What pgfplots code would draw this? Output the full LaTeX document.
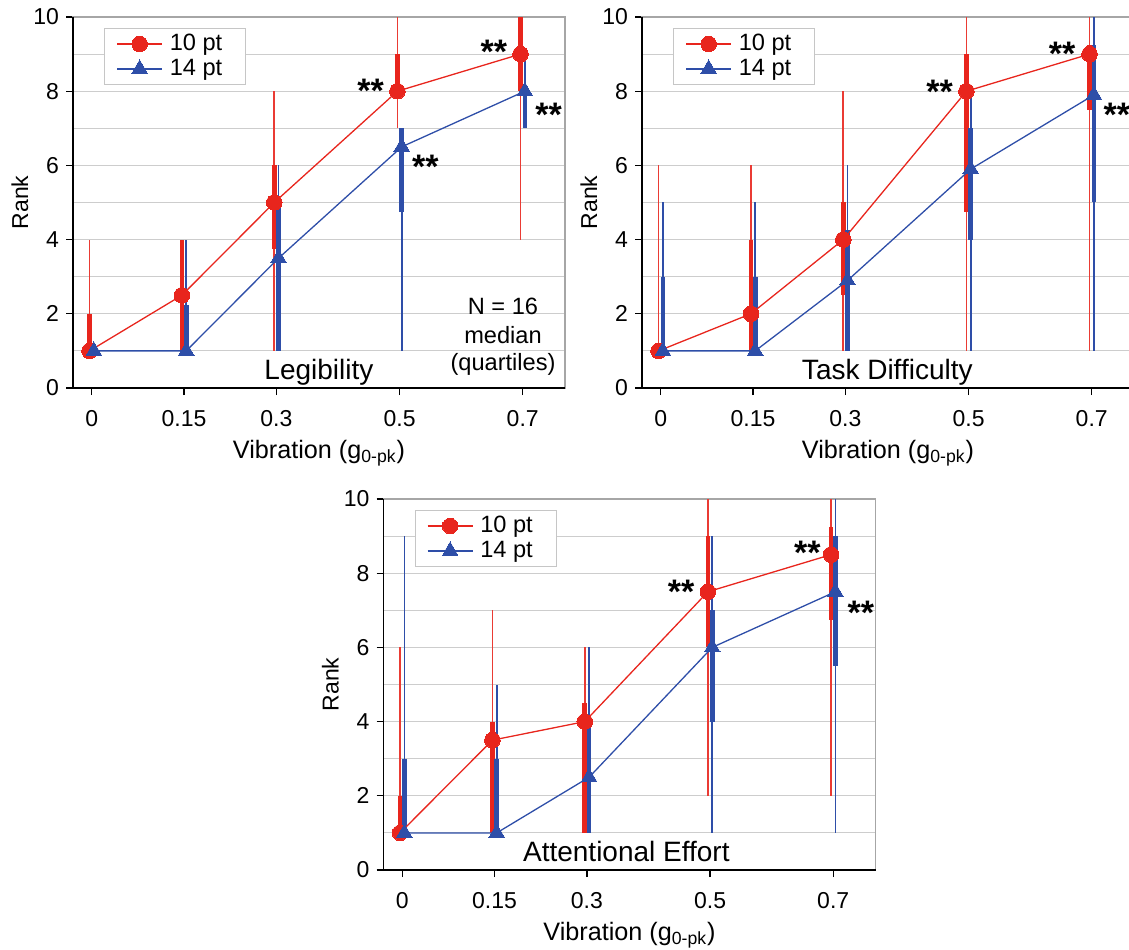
\documentclass[border=0pt]{standalone}
\usepackage{fontspec}
\setmainfont{Liberation Sans}
\usepackage{pgfplots}
\usepackage{pgfplotstable}
\pgfplotsset{compat=1.18}
\definecolor{cred}{RGB}{232,37,29}
\definecolor{cblue}{RGB}{46,78,168}
\definecolor{gridc}{RGB}{205,205,205}

% columns: x, min, lower quartile, median, upper quartile, max
\pgfplotstableread{
x mn qa md qb mx
0    1 1    1   2    4
0.15 1 1    2.5 4    4
0.3  1 3.75 5   6    8
0.5  7 8    8   9    10
0.7  4 8    9   10   10
}\legR
\pgfplotstableread{
x mn qa md qb mx
0    1 1    1   1    1
0.15 1 1    1   2.25 4
0.3  1 1    3.5 4.9  6
0.5  1 4.75 6.5 7    7
0.7  7 7    8   8    9
}\legB
\pgfplotstableread{
x mn qa md qb mx
0    1 1    1   1    6
0.15 1 1    2   4    6
0.3  1 2.5  4   5    8
0.5  1 4.75 8   9    10
0.7  1 7.5  9   9.25 10
}\tasR
\pgfplotstableread{
x mn qa md qb mx
0    1 1    1   3    5
0.15 1 1    1   3    5
0.3  1 1    2.9 4.25 6
0.5  1 4    5.9 7    8
0.7  1 5    7.9 9.25 10
}\tasB
\pgfplotstableread{
x mn qa md qb mx
0    1 1    1   2    6
0.15 1 1    3.5 4    7
0.3  1 1    4   4.5  6
0.5  2 6    7.5 9    10
0.7  2 6.75 8.5 9.25 10
}\attR
\pgfplotstableread{
x mn qa md qb mx
0    1 1    1   3    9
0.15 1 1    1   3    5
0.3  1 1    2.5 4    6
0.5  1 4    6   7    9
0.7  1 5.5  7.5 9    10
}\attB

\pgfplotsset{
 panel/.style={
  scale only axis, width=246pt, height=185.5pt,
  xmin=-0.0304, xmax=0.7687, ymin=0, ymax=10,
  xtick={0,0.15,0.3,0.5,0.7}, xticklabels={0,0.15,0.3,0.5,0.7},
  ytick={0,2,4,6,8,10}, minor ytick={1,3,5,7,9},
  ymajorgrids, yminorgrids,
  major grid style={gridc, line width=0.55pt},
  minor grid style={gridc, line width=0.55pt},
  tick align=outside, xtick pos=bottom, ytick pos=left,
  major tick length=3.5pt, minor tick length=0pt,
  tick style={black, line width=0.6pt},
  axis line style={gray!70, line width=0.6pt},
  ticklabel style={font=\fontsize{11.5}{13}\selectfont},
  /pgf/number format/assume math mode=true,
  xticklabel shift=4pt,
  xlabel={Vibration (g\textsubscript{0-pk})},
  ylabel={Rank},
  xlabel style={at={(axis description cs:0.5,-0.1887)}, anchor=base, font=\fontsize{12.6}{14}\selectfont},
  ylabel style={at={(axis description cs:-0.108,0.5)}, anchor=center, font=\fontsize{11.5}{14}\selectfont},
  legend style={at={(0.063,0.970)}, anchor=north west, draw=gray!45,
    line width=0.5pt, font=\fontsize{11.8}{12}\selectfont,
    inner xsep=6pt, inner ysep=2.3pt,
    nodes={inner xsep=2pt, inner ysep=0.5pt}, row sep=1.8pt},
  legend cell align=left,
  legend image code/.code={\draw[mark repeat=2, mark phase=2] plot coordinates {(0pt,0pt) (11.25pt,0pt) (22.5pt,0pt)};},
  clip=false,
 },
 thinbar/.style={forget plot, draw=none, mark=none,
   error bars/.cd, y dir=both, y explicit, error mark=none,
   error bar style={draw=#1, line width=0.8pt}},
 thickbar/.style={forget plot, draw=none, mark=none,
   error bars/.cd, y dir=both, y explicit, error mark=none,
   error bar style={draw=#1, line width=2.3pt}},
 redline/.style={cred, line width=0.65pt, mark=*, mark size=3.9pt,
   mark options={fill=cred, draw=cred, line width=0pt}},
 blueline/.style={cblue, line width=0.65pt, mark=triangle*, mark size=4.5pt,
   mark options={fill=cblue, draw=cblue, line width=0pt}},
}
\tikzset{
 star/.style={font=\fontsize{17}{17}\selectfont\bfseries, yshift=-3.7pt, inner sep=0pt},
 ttl/.style={font=\fontsize{14}{16}\selectfont, anchor=base},
}

\newcommand{\panelplots}[2]{%
  \addplot[thinbar=cred!90] table[x expr=\thisrow{x}-0.0035, y=md,
     y error plus expr=\thisrow{mx}-\thisrow{md}, y error minus expr=\thisrow{md}-\thisrow{mn}] {#1};
  \addplot[thinbar=cblue] table[x expr=\thisrow{x}+0.0035, y=md,
     y error plus expr=\thisrow{mx}-\thisrow{md}, y error minus expr=\thisrow{md}-\thisrow{mn}] {#2};
  \addplot[thickbar=cred] table[x expr=\thisrow{x}-0.0035, y=md,
     y error plus expr=\thisrow{qb}-\thisrow{md}, y error minus expr=\thisrow{md}-\thisrow{qa}] {#1};
  \addplot[thickbar=cblue] table[x expr=\thisrow{x}+0.0035, y=md,
     y error plus expr=\thisrow{qb}-\thisrow{md}, y error minus expr=\thisrow{md}-\thisrow{qa}] {#2};
  \addplot[redline] table[x expr=\thisrow{x}-0.0035, y=md] {#1};
  \addlegendentry{\hspace{1.5pt}\makebox[30pt][l]{10 pt}}
  \addplot[blueline] table[x expr=\thisrow{x}+0.0035, y=md] {#2};
  \addlegendentry{\hspace{1.5pt}\makebox[30pt][l]{14 pt}}
  \draw[black, line width=0.7pt] (rel axis cs:0,1) -- (rel axis cs:0,0) -- (rel axis cs:1,0);
}

\begin{document}
\begin{tikzpicture}
\useasboundingbox (0,0) rectangle (564.5pt,474.5pt);
\clip (0,0) rectangle (564.5pt,474.5pt);

% Legibility
\begin{axis}[panel, at={(36.5pt,280.5pt)}, anchor=south west]
  \panelplots{\legR}{\legB}
  \node[ttl] at (axis cs:0.369,0.216) {Legibility};
  \node[anchor=base, font=\fontsize{11.8}{13}\selectfont] at (axis cs:0.668,1.97) {N = 16};
  \node[anchor=base, font=\fontsize{11.8}{13}\selectfont] at (axis cs:0.668,1.21) {median};
  \node[anchor=base, font=\fontsize{11.8}{13}\selectfont] at (axis cs:0.668,0.485) {(quartiles)};
  \node[star] at (axis cs:0.453,8.22) {**};
  \node[star] at (axis cs:0.653,9.25) {**};
  \node[star] at (axis cs:0.542,6.15) {**};
  \node[star] at (axis cs:0.742,7.57) {**};
\end{axis}

% Task Difficulty
\begin{axis}[panel, at={(321pt,280.5pt)}, anchor=south west]
  \panelplots{\tasR}{\tasB}
  \node[ttl] at (axis cs:0.368,0.216) {Task Difficulty};
  \node[star] at (axis cs:0.453,8.17) {**};
  \node[star] at (axis cs:0.652,9.2) {**};
  \node[star] at (axis cs:0.741,7.55) {**};
\end{axis}

% Attentional Effort
\begin{axis}[panel, at={(191.75pt,39.5pt)}, anchor=south west]
  \panelplots{\attR}{\attB}
  \node[ttl] at (axis cs:0.364,0.22) {Attentional Effort};
  \node[star] at (axis cs:0.453,7.71) {**};
  \node[star] at (axis cs:0.658,8.76) {**};
  \node[star] at (axis cs:0.745,7.14) {**};
\end{axis}
\end{tikzpicture}
\end{document}
